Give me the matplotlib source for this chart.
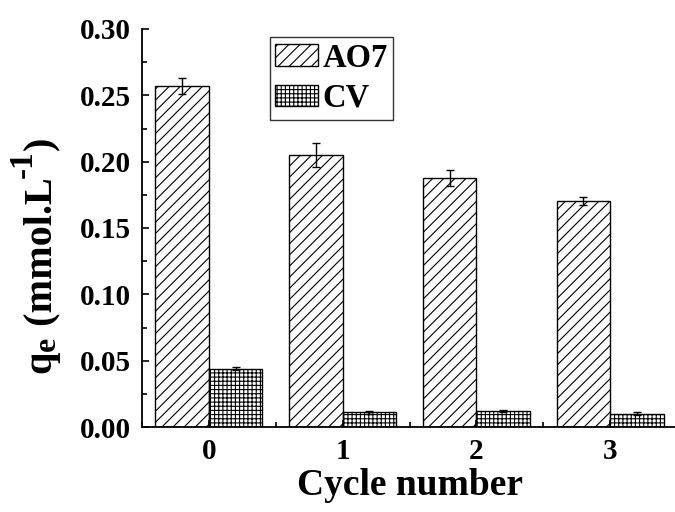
import matplotlib
matplotlib.use("Agg")
import matplotlib.pyplot as plt
import numpy as np
from matplotlib.ticker import MultipleLocator, FormatStrFormatter

plt.rcParams['font.family'] = ['Liberation Serif', 'DejaVu Serif']
plt.rcParams['font.weight'] = 'bold'
plt.rcParams['hatch.linewidth'] = 0.8

cycles = [0, 1, 2, 3]
cycle_labels = ['0', '1', '2', '3']
ao7 = [0.257, 0.205, 0.188, 0.170]
ao7_err = [0.006, 0.009, 0.006, 0.003]
cv = [0.044, 0.011, 0.012, 0.010]
cv_err = [0.001, 0.001, 0.001, 0.001]

W, H = 675, 512
fig = plt.figure(figsize=(W / 100, H / 100), dpi=100)
ax = fig.add_axes([142 / W, 85 / H, 535 / W, 398 / H])

x = np.array(cycles, dtype=float)
w = 0.4
ekw = dict(ecolor='black', elinewidth=1.0, capsize=3, capthick=1.0)
ax.bar(x - w / 2, ao7, w, yerr=ao7_err, color='white', edgecolor='black',
       linewidth=1.0, hatch='///', label='AO7', error_kw=ekw)
ax.bar(x + w / 2, cv, w, yerr=cv_err, color='white', edgecolor='black',
       linewidth=1.0, hatch='++++', label='CV', error_kw=ekw)

ax.set_xlim(-0.5, 3.5)
ax.set_ylim(0, 0.30)
ax.set_xticks(cycles)
ax.set_xticklabels(cycle_labels)
ax.xaxis.set_minor_locator(MultipleLocator(0.5))
ax.yaxis.set_major_locator(MultipleLocator(0.05))
ax.yaxis.set_minor_locator(MultipleLocator(0.025))
ax.yaxis.set_major_formatter(FormatStrFormatter('%.2f'))

for s in ['top', 'right']:
    ax.spines[s].set_visible(False)
for s in ['left', 'bottom']:
    ax.spines[s].set_linewidth(1.3)

ax.tick_params(axis='both', which='major', direction='in', length=5, width=1.2,
               labelsize=21)
ax.tick_params(axis='both', which='minor', direction='in', length=3.5, width=1.2)
ax.tick_params(axis='y', which='major', pad=8)
ax.tick_params(axis='x', which='major', pad=8)

ax.set_xlabel('Cycle number', fontsize=27, fontweight='bold', labelpad=2)

leg = ax.legend(loc='upper left', bbox_to_anchor=(0.239, 0.98), borderaxespad=0,
                fontsize=23.5, frameon=True, fancybox=False, framealpha=1,
                edgecolor='#333333', handlelength=1.29, handleheight=0.64,
                handletextpad=0.15, labelspacing=0.29, borderpad=0.17)
leg.get_frame().set_linewidth(1.0)
for t in leg.get_texts():
    t.set_fontweight('bold')

# y label built from pieces (rotated 90 degrees), in figure pixel coords
renderer = fig.canvas.get_renderer()
pieces = [
    ('q', 29, 50),
    ('e', 23, 55),
    (' (mmol.L', 29, 51),
    ('-1', 24, 32),
    (')', 29, 51),
]
ystart = H - 373
for txt, size, xbase in pieces:
    t = fig.text(xbase / W, ystart / H, txt, fontsize=size, fontweight='bold',
                 rotation=90, rotation_mode='anchor', ha='left', va='baseline')
    bb = t.get_window_extent(renderer)
    ystart += bb.height

fig.savefig('out.png', dpi=100)
